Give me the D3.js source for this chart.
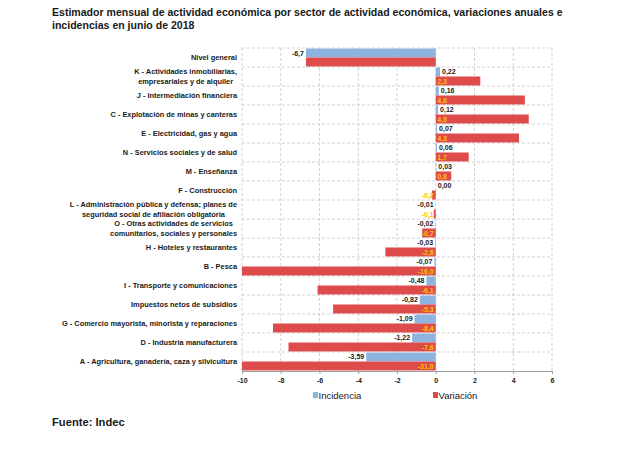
<!DOCTYPE html>
<html><head><meta charset="utf-8">
<script src="https://cdn.jsdelivr.net/npm/d3@7"></script>
<style>
body{margin:0;background:#fff;}
svg{display:block;font-family:"Liberation Sans",Arial,sans-serif;}
</style></head><body>
<svg id="c" width="629" height="450"></svg>
<script>
const categories = [
  ["Nivel general"],
  ["K - Actividades inmobiliarias,","empresariales y de alquiler"],
  ["J - Intermediación financiera"],
  ["C - Explotación de minas y canteras"],
  ["E - Electricidad, gas y agua"],
  ["N - Servicios sociales y de salud"],
  ["M - Enseñanza"],
  ["F - Construcción"],
  ["L - Administración pública y defensa; planes de","seguridad social de afiliación obligatoria"],
  ["O - Otras actividades de servicios","comunitarios, sociales y personales"],
  ["H - Hoteles y restaurantes"],
  ["B - Pesca"],
  ["I - Transporte y comunicaciones"],
  ["Impuestos netos de subsidios"],
  ["G - Comercio mayorista, minorista y reparaciones"],
  ["D - Industria manufacturera"],
  ["A -  Agricultura, ganadería, caza y silvicultura"]
];
const incidencia = [-6.7,0.22,0.16,0.12,0.07,0.06,0.03,0.00,-0.01,-0.02,-0.03,-0.07,-0.48,-0.82,-1.09,-1.22,-3.59];
const variacion  = [-6.7,2.3,4.6,4.8,4.3,1.7,0.8,-0.2,-0.1,-0.7,-2.6,-16.0,-6.1,-5.3,-8.4,-7.6,-31.0];
const incLabels = ["-6,7","0,22","0,16","0,12","0,07","0,06","0,03","0,00","-0,01","-0,02","-0,03","-0,07","-0,48","-0,82","-1,09","-1,22","-3,59"];
const varLabels = [null,"2,3","4,6","4,8","4,3","1,7","0,8","-0,2","-0,1","-0,7","-2,6","-16,0","-6,1","-5,3","-8,4","-7,6","-31,0"];
const xTicks = [-10,-8,-6,-4,-2,0,2,4,6];
const seriesNames = ["Incidencia","Variación"];
const colors = ["#8db3de","#dd4b4b"];

const svg = d3.select("#c");
const x = d3.scaleLinear().domain([-10,6]).range([242,552]).clamp(true);
const idx = d3.range(categories.length);
const y = d3.scaleBand().domain(idx).range([48,371]).paddingInner(0);
const sub = d3.scaleBand().domain([0,1]).range([0,y.bandwidth()]).paddingOuter(0.06);

// title
const title = svg.append("g").attr("font-weight","bold").attr("font-size",10.55).attr("fill","#1a1a1a");
title.append("text").attr("x",52).attr("y",16).text("Estimador mensual de actividad económica por sector de actividad económica, variaciones anuales e");
title.append("text").attr("x",52).attr("y",29).text("incidencias en junio de 2018");

// grid
const grid = svg.append("g").attr("stroke","#c8c8c8").attr("stroke-width",0.8).attr("stroke-dasharray","3,2");
grid.selectAll("line.v").data(xTicks).join("line")
  .attr("x1",d=>x(d)).attr("x2",d=>x(d)).attr("y1",48).attr("y2",371);
grid.selectAll("line.h").data(idx).join("line")
  .attr("x1",242).attr("x2",552).attr("y1",d=>y(d)).attr("y2",d=>y(d));

// bars
const g = svg.append("g");
g.selectAll("rect.inc").data(incidencia).join("rect")
  .attr("x",d=>Math.min(x(0),x(d))).attr("width",d=>Math.abs(x(d)-x(0)))
  .attr("y",(d,i)=>y(i)+sub(0)).attr("height",sub.bandwidth()).attr("fill",colors[0]);
g.selectAll("rect.var").data(variacion).join("rect")
  .attr("x",d=>Math.min(x(0),x(d))).attr("width",d=>Math.abs(x(d)-x(0)))
  .attr("y",(d,i)=>y(i)+sub(1)).attr("height",sub.bandwidth()).attr("fill",colors[1]);

// axis
const ax = svg.append("g").attr("transform","translate(0,371)")
  .call(d3.axisBottom(x).tickValues(xTicks).tickSize(3).tickFormat(d=>d));
ax.select(".domain").attr("stroke","#a0a0a0");
ax.selectAll(".tick line").attr("stroke","#a0a0a0");
ax.selectAll(".tick text").attr("font-size",7).attr("font-weight","bold").attr("fill","#1a1a1a").attr("dy","0.9em")
  .attr("font-family","'Liberation Sans',Arial,sans-serif");

// value labels
const lab = svg.append("g").attr("font-size",7).attr("font-weight","bold");
lab.selectAll("text.inc").data(incidencia).join("text")
  .attr("x",d=> d>=0 ? x(d)+2 : x(d)-2)
  .attr("text-anchor",d=>d>=0?"start":"end")
  .attr("y",(d,i)=>y(i)+sub(0)+sub.bandwidth()/2 - (i===0?-1:0.5)).attr("dy","0.35em")
  .attr("fill","#1a1a1a").text((d,i)=>incLabels[i]);
lab.selectAll("text.var").data(variacion).join("text")
  .attr("x",d=> d>=0 ? x(0)+1.5 : x(0)-2)
  .attr("text-anchor",d=>d>=0?"start":"end")
  .attr("y",(d,i)=>y(i)+sub(1)+sub.bandwidth()/2).attr("dy","0.38em")
  .attr("fill","#ffc000").text((d,i)=>varLabels[i]||"");

// category labels
const cl = svg.append("g").attr("font-size",7.4).attr("font-weight","bold").attr("fill","#1a1a1a");
categories.forEach((lines,i)=>{
  const cy = y(i)+y.bandwidth()/2;
  const n = lines.length;
  const ts = lines.map((t,k)=>cl.append("text").attr("y",cy+(k-(n-1)/2)*9.5).attr("dy","0.35em").text(t));
  const ws = ts.map(t=>t.node().getComputedTextLength());
  const mw = d3.max(ws);
  ts.forEach((t,k)=>t.attr("x",237-mw/2).attr("text-anchor","middle"));
});

// legend
const lg = svg.append("g").attr("font-family","'Liberation Sans Narrow','Liberation Sans',Arial,sans-serif").attr("font-size",9.5).attr("fill","#1a1a1a");
const lx = [313,433];
seriesNames.forEach((s,i)=>{
  lg.append("rect").attr("x",lx[i]).attr("y",392).attr("width",5).attr("height",6).attr("fill",colors[i]);
  lg.append("text").attr("x",lx[i]+5.5).attr("y",398.5).text(s);
});

// source
svg.append("text").attr("x",52).attr("y",426).attr("font-size",11.2).attr("font-weight","bold").attr("fill","#1a1a1a").text("Fuente: Indec");
</script>
</body></html>
